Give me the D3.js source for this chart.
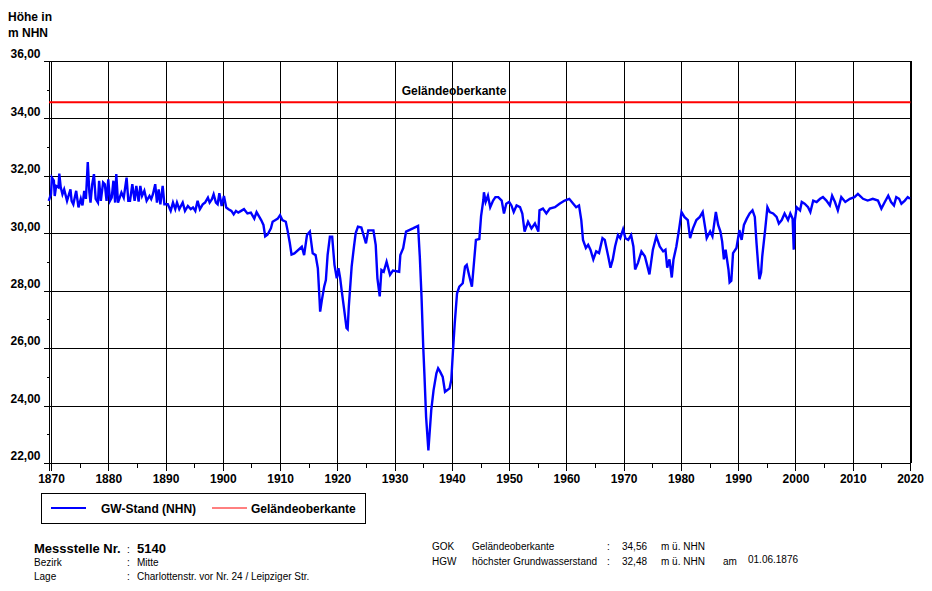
<!DOCTYPE html>
<meta charset="utf-8">
<style>
body { margin:0; background:#fff; font-family:"Liberation Sans", Arial, sans-serif; }
text { font-family:"Liberation Sans", Arial, sans-serif; }
.bold { font-weight:bold; font-size:12px; }
.small { font-size:10px; }
.grid line { stroke:#000; stroke-width:1; shape-rendering:crispEdges; }
.axis path { display:none; }
.axis line { stroke:#000; shape-rendering:crispEdges; }
.axis text { font-weight:bold; font-size:12px; fill:#000; }
</style>
<body>
<script src="https://d3js.org/d3.v7.min.js"></script>
<script>

// GW-Stand (NHN), Messstelle 5140
var years = [1869.6,1870.0,1870.15,1870.5,1870.65,1870.9,1871.3,1871.45,1871.7,1872.0,1872.3,1872.8,1873.4,1873.6,1873.9,1874.4,1874.8,1875.2,1875.5,1875.8,
1876.1,1876.42,1876.7,1876.9,1877.2,1877.5,1877.8,1878.2,1878.4,1878.7,1879.1,1879.4,1879.7,1880.0,1880.3,1880.6,1880.9,1881.2,1881.4,1881.7,
1882.0,1882.3,1882.7,1883.2,1883.5,1883.8,1884.2,1884.6,1884.9,1885.3,1885.6,1885.9,1886.3,1886.7,1887.2,1887.5,1887.8,1888.2,1888.5,1888.8,
1889.1,1889.5,1889.8,1890.4,1890.9,1891.3,1891.7,1892.0,1892.4,1893.0,1893.4,1893.9,1894.4,1894.8,1895.2,1895.6,1896.0,1896.5,1896.9,1897.4,
1897.7,1898.1,1898.4,1898.8,1899.1,1899.4,1899.8,1900.2,1900.6,1901.0,1901.5,1901.9,1902.3,1902.7,1903.2,1903.7,1904.3,1904.9,1905.5,1905.9,
1906.3,1906.7,1907.1,1907.4,1907.8,1908.4,1908.7,1909.2,1909.6,1910.0,1910.4,1911.0,1911.3,1911.7,1912.0,1912.5,1913.8,1914.2,1914.7,1915.2,
1915.7,1916.2,1916.6,1916.9,1917.0,1917.3,1917.7,1918.0,1918.3,1918.7,1919.1,1919.5,1919.9,1920.2,1920.5,1920.75,1921.2,1921.6,1921.8,1922.0,
1922.5,1922.9,1923.2,1923.6,1924.2,1925.0,1925.4,1926.3,1926.7,1927.0,1927.4,1927.7,1928.1,1928.6,1929.2,1929.7,1930.8,1931.0,1931.5,1932.0,
1933.2,1934.1,1934.4,1934.7,1935.0,1935.2,1935.5,1935.9,1936.1,1936.4,1936.8,1937.3,1937.6,1937.9,1938.4,1938.8,1939.6,1939.9,1940.2,1940.5,
1940.9,1941.3,1941.9,1942.3,1942.6,1943.0,1943.5,1943.9,1944.2,1944.8,1945.1,1945.5,1945.6,1945.9,1946.3,1946.7,1947.2,1947.6,1948.1,1948.7,
1949.1,1949.5,1950.0,1950.4,1950.8,1951.3,1951.9,1952.3,1952.7,1953.3,1953.9,1954.5,1955.1,1955.3,1955.9,1956.5,1957.1,1958.0,1958.8,1959.7,
1960.5,1961.2,1961.7,1962.2,1962.6,1962.9,1963.4,1963.8,1964.2,1964.7,1965.2,1965.7,1966.3,1966.7,1967.3,1967.7,1968.1,1968.5,1969.0,1969.4,
1969.9,1970.3,1970.8,1971.3,1971.7,1972.0,1972.5,1973.1,1973.7,1974.0,1974.5,1975.1,1975.7,1976.3,1976.9,1977.3,1977.6,1978.0,1978.4,1978.7,
1979.2,1979.7,1980.1,1980.6,1981.2,1981.6,1982.1,1982.7,1983.3,1983.8,1984.3,1984.5,1985.1,1985.5,1986.1,1986.5,1986.9,1987.2,1987.5,1987.8,
1988.3,1988.5,1988.8,1989.1,1989.7,1990.2,1990.6,1991.0,1991.5,1992.0,1992.5,1992.9,1993.2,1993.5,1993.7,1994.0,1994.2,1994.7,1995.1,1995.5,
1996.1,1996.7,1997.1,1997.6,1998.1,1998.7,1999.1,1999.5,1999.7,1999.9,2000.2,2000.8,2001.1,2001.6,2002.2,2002.6,2003.1,2003.7,2004.3,2004.8,
2005.4,2006.0,2006.4,2006.9,2007.4,2008.0,2008.7,2009.5,2010.3,2010.9,2011.8,2012.6,2013.5,2014.4,2015.0,2015.6,2016.2,2016.7,2017.2,2017.6,
2018.1,2018.5,2019.1,2019.6,2020.0];

var levels = [31.13,31.36,31.94,31.83,31.3,31.65,31.6,32.08,31.6,31.36,31.53,31.13,31.53,31.13,31.01,31.48,30.9,31.2,30.97,31.48,
31.2,32.48,31.42,31.07,31.71,32.06,31.2,31.07,31.83,31.13,31.77,31.71,31.13,31.88,31.13,31.24,31.83,31.07,32.06,31.07,
31.24,31.42,31.24,31.94,31.13,31.13,31.71,31.13,31.65,31.1,31.65,31.3,31.48,31.13,31.3,31.19,31.36,31.71,31.07,31.53,
31.01,31.65,31.01,31.01,30.78,31.07,30.84,31.07,30.84,31.07,30.78,30.95,30.84,30.9,30.78,31.13,30.84,31.01,31.07,31.24,
31.07,31.19,31.36,31.07,31.01,31.4,30.95,31.3,30.9,30.84,30.78,30.66,30.78,30.72,30.78,30.84,30.69,30.72,30.51,30.74,
30.6,30.46,30.29,29.89,29.95,30.17,30.4,30.46,30.51,30.63,30.46,30.4,30.11,29.66,29.26,29.3,29.53,29.24,29.94,30.06,
29.3,29.24,28.78,27.67,27.27,27.67,28.14,28.37,29.24,29.88,29.88,28.9,28.43,28.78,28.43,28.02,27.33,26.7,26.66,27.44,
28.84,29.53,30.0,30.23,30.2,29.65,30.1,30.1,29.6,28.43,27.8,28.72,28.66,29.01,28.55,28.7,28.66,29.24,29.48,30.06,
30.17,30.26,29.19,27.8,26.05,25.12,23.6,22.44,23.0,23.84,24.53,25.12,25.3,25.2,25.0,24.48,24.6,24.9,25.93,26.86,
27.9,28.14,28.26,28.84,28.9,28.55,28.14,29.07,29.77,29.8,30.6,31.16,31.43,31.09,31.31,30.91,31.14,31.26,31.26,31.14,
30.69,31.03,31.09,30.97,30.74,30.97,30.91,30.69,30.06,30.4,30.17,30.34,30.06,30.8,30.86,30.69,30.86,30.91,31.03,31.14,
31.2,31.03,30.91,30.97,30.46,29.77,29.49,29.6,29.43,29.09,29.37,29.31,29.83,29.77,29.2,28.8,29.09,29.54,29.94,29.83,
30.14,29.83,29.77,29.94,29.54,28.74,28.97,29.37,29.2,28.97,28.57,29.43,29.89,29.54,29.37,29.43,28.8,29.09,28.46,29.09,
29.54,30.17,30.74,30.57,30.46,29.83,30.17,30.46,30.57,30.74,30.11,29.83,30.06,29.89,30.74,30.29,30.06,29.71,29.09,29.43,
28.74,28.29,28.35,29.31,29.49,30.11,29.77,30.29,30.51,30.69,30.8,30.57,29.66,28.86,28.4,28.63,29.2,30.11,30.91,30.74,
30.69,30.57,30.34,30.46,30.69,30.46,30.69,30.51,29.43,30.46,30.91,30.8,31.09,31.03,30.91,30.74,31.14,31.09,31.2,31.26,
31.14,30.97,31.31,31.09,30.8,31.26,31.09,31.2,31.26,31.37,31.2,31.14,31.2,31.14,30.86,31.09,31.31,31.09,30.97,31.26,
31.2,31.03,31.14,31.26,31.2];

var gok = 34.56;
var yTickValues = [22,24,26,28,30,32,34,36];
var yMinorValues = [23,25,27,29,31,33,35];
var xTickValues = [1870,1880,1890,1900,1910,1920,1930,1940,1950,1960,1970,1980,1990,2000,2010,2020];
var xMinorValues = [1875,1885,1895,1905,1915,1925,1935,1945,1955,1965,1975,1985,1995,2005,2015];
var legendNames = ["GW-Stand (NHN)","Geländeoberkante"];
var legendColors = ["#0000ff","#ff0000"];
var stationLabels = ["Messstelle Nr.","Bezirk","Lage"];
var stationValues = ["5140","Mitte","Charlottenstr. vor Nr. 24 / Leipziger Str."];
var infoCodes = ["GOK","HGW"];
var infoNames = ["Geländeoberkante","höchster Grundwasserstand"];
var infoValues = ["34,56","32,48"];
var infoUnits = ["m ü. NHN","m ü. NHN"];
var hgwDate = "01.06.1876";

var de = d3.formatLocale({decimal:",", thousands:".", grouping:[3], currency:["","€"]});
var fmt = de.format(".2f");

var svg = d3.select("body").append("svg").attr("width",932).attr("height",591);

var x = d3.scaleLinear().domain([1870,2020]).range([51,910]);
var y = d3.scaleLinear().domain([22,36]).range([463,61]);
var left = 49, right = 910.5;

// frame + grid
var grid = svg.append("g").attr("class","grid");
grid.selectAll(".h").data(yTickValues).enter().append("line")
	.attr("x1",left).attr("x2",right)
	.attr("y1",d=>Math.round(y(d))+0.5).attr("y2",d=>Math.round(y(d))+0.5);
grid.selectAll(".v").data(xTickValues.slice(0,-1)).enter().append("line")
	.attr("y1",y(36)).attr("y2",y(22))
	.attr("x1",d=>Math.round(x(d))+0.5).attr("x2",d=>Math.round(x(d))+0.5);
grid.append("line").attr("x1",left+0.5).attr("x2",left+0.5).attr("y1",y(36)).attr("y2",y(22)+8);
grid.append("line").attr("x1",right).attr("x2",right).attr("y1",y(36)).attr("y2",y(22))
	.style("stroke-width",2);

// axes
var yAxis = d3.axisLeft(y).tickValues(yTickValues).tickSize(6).tickPadding(0).tickFormat(fmt);
var gy = svg.append("g").attr("class","axis").attr("transform","translate("+(left+0.5)+",0)").call(yAxis);
gy.selectAll("text").attr("x",-9).attr("y",-7).attr("dy","0.32em");
svg.append("g").attr("class","axis").attr("transform","translate("+(left+0.5)+",0)")
	.call(d3.axisLeft(y).tickValues(yMinorValues).tickSize(3).tickFormat(""));

var xAxis = d3.axisBottom(x).tickValues(xTickValues).tickSize(7).tickPadding(4).tickFormat(d3.format("d"));
svg.append("g").attr("class","axis").attr("transform","translate(0,"+(y(22)+0.5)+")").call(xAxis);
svg.append("g").attr("class","axis").attr("transform","translate(0,"+(y(22)+0.5)+")")
	.call(d3.axisBottom(x).tickValues(xMinorValues).tickSize(4).tickFormat(""));

// GOK line
svg.append("line").attr("x1",left).attr("x2",right).attr("y1",y(gok)).attr("y2",y(gok))
	.style("stroke",legendColors[1]).style("stroke-width",2);
svg.append("text").attr("class","bold").attr("x",454).attr("y",y(gok)-7)
	.style("text-anchor","middle").text(legendNames[1]);

// groundwater line
var line = d3.line().x((d,i)=>x(years[i])).y(d=>y(d));
svg.append("path").datum(levels).attr("d",line)
	.style("fill","none").style("stroke",legendColors[0]).style("stroke-width",2.4)
	.style("stroke-linejoin","miter");

// axis title
svg.append("text").attr("class","bold").attr("x",8).attr("y",21).text("Höhe in");
svg.append("text").attr("class","bold").attr("x",8).attr("y",37).text("m NHN");

// legend
var lg = svg.append("g");
lg.append("rect").attr("x",41.5).attr("y",493.5).attr("width",324).attr("height",30)
	.style("fill","none").style("stroke","#000");
var legX = [51,212];
var legTextX = [101,251];
legendNames.forEach(function(n,i){
	lg.append("line").attr("x1",legX[i]).attr("x2",legX[i]+35).attr("y1",508).attr("y2",508)
		.style("stroke",legendColors[i]).style("stroke-width",i==0?2:1);
	lg.append("text").attr("class","bold").attr("x",legTextX[i]).attr("y",512.5).text(n);
});

// station block
var rowY = [553,566,580];
stationLabels.forEach(function(l,i){
	var big = i==0;
	svg.append("text").attr("x",34).attr("y",rowY[i]).style("font-size",big?"13px":"10px")
		.style("font-weight",big?"bold":"normal").text(l);
	svg.append("text").attr("x",127).attr("y",rowY[i]).style("font-size","10px").text(":");
	svg.append("text").attr("x",137).attr("y",rowY[i]).style("font-size",big?"13px":"10px")
		.style("font-weight",big?"bold":"normal").text(stationValues[i]);
});

var infoY = [550,565];
infoCodes.forEach(function(c,i){
	var r = svg.append("g").style("font-size","10px");
	r.append("text").attr("x",432).attr("y",infoY[i]).text(c);
	r.append("text").attr("x",472).attr("y",infoY[i]).text(infoNames[i]);
	r.append("text").attr("x",607).attr("y",infoY[i]).text(":");
	r.append("text").attr("x",622).attr("y",infoY[i]-0.5).text(infoValues[i]);
	r.append("text").attr("x",661).attr("y",infoY[i]).text(infoUnits[i]);
});
svg.append("text").style("font-size","10px").attr("x",723).attr("y",infoY[1]).text("am");
svg.append("text").style("font-size","10px").attr("x",748).attr("y",infoY[1]-2).text(hgwDate);

</script>
</body>
